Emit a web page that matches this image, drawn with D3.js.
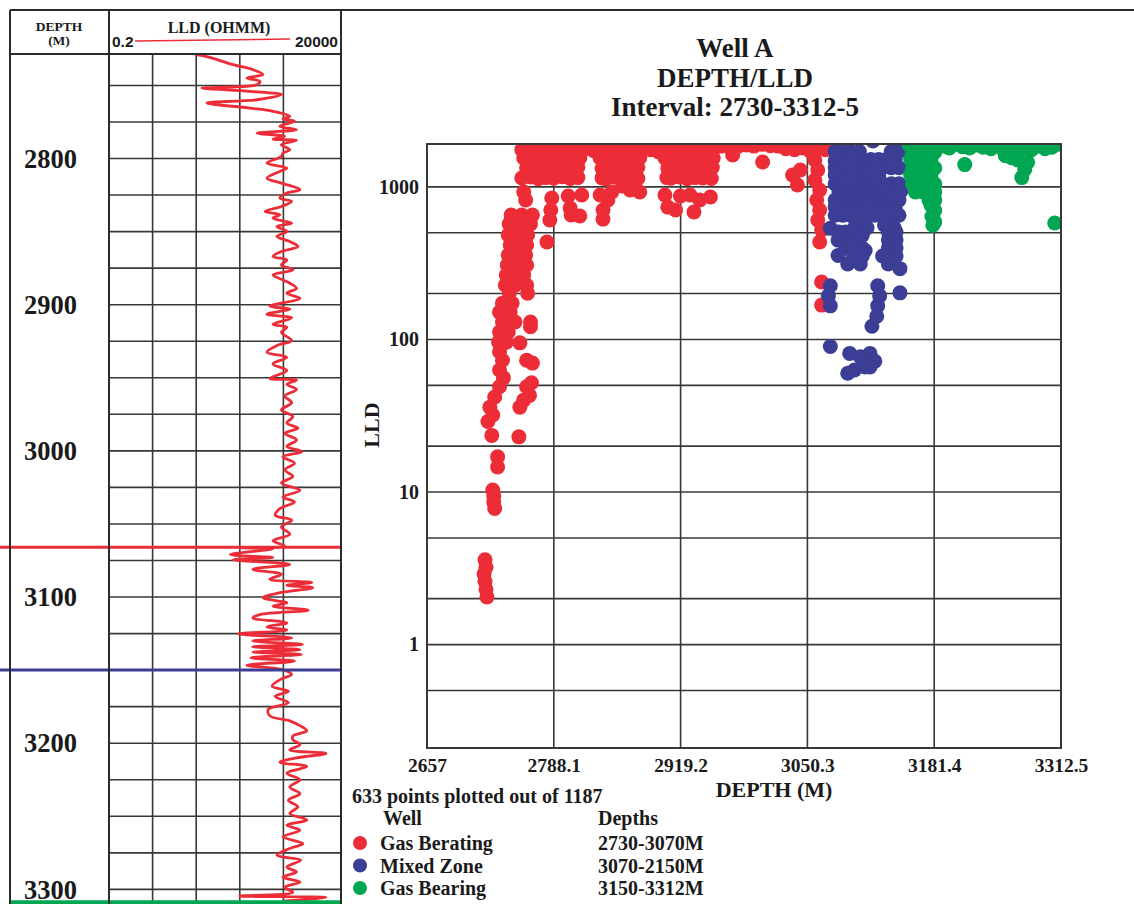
<!DOCTYPE html>
<html>
<head>
<meta charset="utf-8">
<script src="https://cdn.jsdelivr.net/npm/d3@7"></script>
<style>
    body { margin: 0; background: #fff; }
    svg { display: block; font-family: "Liberation Serif", "Times New Roman", serif; font-weight: bold; }
</style>
</head>
<body>
<script>
const width = 1134;
const height = 904;

// Zones (legend + boundary lines on the log track)
const zoneNames = ["Gas Berating", "Mixed Zone", "Gas Bearing"];
const zoneDepthText = ["2730-3070M", "3070-2150M", "3150-3312M"];
const zoneColors = ["#ec2d38", "#3b3e94", "#00a651"];
const zoneLines = [3066, 3150, 3309];

// Crossplot axes
const depthTicks = [2657, 2788.1, 2919.2, 3050.3, 3181.4, 3312.5];
const lldTicks = [1, 10, 100, 1000];
const lldGrid = [0.5, 1, 2, 5, 10, 20, 50, 100, 200, 500, 1000];

// Log track axes
const trackGrid = [2, 20, 200, 2000];
const trackDepthLabels = [2800, 2900, 3000, 3100, 3200, 3300];

// LLD curve on the depth track: [depth m, LLD ohmm]
const logCurve = [
    [2728.9, 19], [2729.6, 28], [2732.3, 60], [2735.8, 140], [2739.2, 400], [2742.6, 680],
    [2744.9, 290], [2747.2, 580], [2749.5, 495], [2751.8, 27], [2754, 340], [2756.3, 1800],
    [2759.8, 495], [2762, 35], [2765.5, 340], [2767.7, 1150], [2771.1, 2800], [2772.9, 1950],
    [2774.5, 3600], [2778, 1660], [2780.3, 4000], [2782.6, 495], [2784.8, 2150], [2786.7, 1150],
    [2787.6, 4000], [2790.6, 1800], [2794, 2800], [2796.3, 1950], [2798.6, 1800], [2803.1, 840],
    [2806.5, 2400], [2808.8, 1660], [2813.4, 840], [2816.8, 1800], [2821.3, 4800], [2823.6, 2400],
    [2827.1, 1660], [2829.3, 3100], [2832.8, 1800], [2836.2, 760], [2838.5, 1660], [2840.8, 1150],
    [2844.2, 3100], [2846.5, 1420], [2849.9, 2400], [2853.3, 1420], [2856.8, 2800], [2860.2, 4300],
    [2863.6, 1800], [2867.1, 1150], [2869.4, 2400], [2872.8, 1800], [2876.2, 3300], [2879.6, 1150],
    [2883.1, 1950], [2885.3, 2800], [2888.8, 4000], [2892.2, 2400], [2895.6, 4800],
    [2901, 980], [2903, 2800], [2906.5, 840], [2909, 3100], [2913.5, 1150], [2915.5, 2400],
    [2919, 1800], [2924.5, 3100], [2928, 1420], [2932.5, 840], [2936, 2400], [2940.5, 1150],
    [2945, 2400], [2950.5, 980], [2951.5, 4000], [2954.5, 2400], [2958, 4000], [2962.5, 2150],
    [2967, 3100], [2972, 1800], [2976.5, 3300], [2981, 2400], [2984.5, 4300], [2988, 2150],
    [2992.5, 4000], [2997, 2400], [3000.5, 5300], [3004, 1950], [3008.5, 3600], [3013, 2150],
    [3017.5, 3300], [3022, 1800], [3027, 4800], [3031.5, 1950], [3035, 3600], [3039.5, 1660],
    [3044, 1300], [3047.5, 3100], [3052, 1800], [3057, 2800], [3061.5, 1150], [3065, 2150],
    [3066.3, 200], [3067, 1150], [3070.9, 120], [3073, 1150], [3074.5, 140], [3077.7, 2800],
    [3081, 400], [3084.4, 1800], [3087.8, 980], [3090, 9000], [3092, 2400], [3093.6, 9400],
    [3097, 1700], [3100.5, 680], [3104, 2400], [3106.3, 1150], [3109, 7400], [3112, 580],
    [3114.3, 400], [3117.7, 2400], [3120.4, 840], [3122.7, 2400], [3125.2, 180], [3128, 3100],
    [3130, 400], [3132.5, 5500], [3134, 390], [3136, 4800], [3137.7, 400], [3139.3, 5200],
    [3141.6, 360], [3143.8, 3600], [3146.7, 290], [3149.5, 1800], [3153, 3100], [3156, 1800],
    [3161, 1100], [3164.4, 2600], [3168, 1300], [3172.3, 2600], [3176.8, 900], [3181.3, 980],
    [3184.7, 2800], [3188, 4800], [3191.5, 6900], [3195, 3300], [3197.5, 3300], [3201, 4800],
    [3204.5, 2800], [3207, 19000], [3210, 4000], [3213, 1660], [3216, 6900], [3220.5, 2400],
    [3225, 4800], [3230, 2800], [3234.5, 4800], [3239, 2600], [3243.5, 4300], [3248, 2800],
    [3252.6, 6900], [3256, 2400], [3259.6, 4800], [3264, 1950], [3268.7, 5600], [3272, 2800],
    [3276.7, 1420], [3280, 5000], [3284.7, 2400], [3288, 4000], [3291.6, 1950], [3295, 4800],
    [3298.5, 2150], [3302, 3300], [3304.5, 200], [3305.5, 19000], [3308, 1950]
];

// Crossplot points: [depth m, LLD ohmm]
const gasUpperPoints = [
    // low-resistivity shallow part
    [2717, 3.6], [2718, 3.2], [2716, 2.9], [2717, 2.6], [2718, 2.3], [2719, 2.05],
    [2725, 10.3], [2726, 9.4], [2726, 8.6], [2727, 7.8], [2730, 17], [2730, 14.6],
    [2724, 23.5], [2752, 23], [2720, 29], [2725, 32], [2722, 36], [2727, 42], [2732, 49],
    [2753, 36], [2757, 40], [2763, 43], [2760, 49], [2765, 52],
    [2736, 56], [2732, 63], [2735, 73], [2760, 73], [2766, 70], [2732, 83],
    [2731, 96], [2739, 96], [2753, 95], [2732, 112], [2741, 112], [2764, 121],
    [2735, 130], [2748, 130], [2764, 130], [2732, 151], [2743, 151], [2735, 173], [2745, 173],
    [2742, 201], [2761, 201], [2738, 227], [2748, 227], [2760, 227],
    [2739, 264], [2747, 264], [2757, 264], [2740, 307], [2751, 307], [2760, 307],
    [2741, 358], [2749, 358], [2759, 358], [2743, 416], [2753, 416], [2760, 416],
    [2741, 484], [2750, 484], [2761, 484], [2742, 572], [2752, 572], [2764, 572],
    [2744, 654], [2755, 654], [2766, 654], [2781, 435],
    // solid part under the upper band
    [2757, 1546], [2766, 1560], [2774, 1530], [2782, 1550], [2790, 1540], [2799, 1555], [2807, 1535],
    [2815, 1550], [2836, 1545], [2844, 1560], [2852, 1530], [2861, 1550], [2869, 1540], [2877, 1555],
    [2903, 1545], [2911, 1535], [2920, 1560], [2928, 1540], [2936, 1550], [2944, 1530], [2953, 1545],
    [2760, 1330], [2768, 1310], [2777, 1350], [2785, 1320], [2793, 1340], [2801, 1300], [2810, 1330],
    [2813, 1345], [2838, 1320], [2847, 1340], [2855, 1310], [2863, 1335], [2872, 1320], [2875, 1345],
    [2906, 1330], [2914, 1310], [2922, 1345], [2931, 1320], [2939, 1335], [2947, 1315], [2952, 1340],
    [2755, 1143], [2764, 1160], [2772, 1130], [2780, 1150], [2788, 1140], [2797, 1165], [2805, 1135],
    [2813, 1150], [2838, 1145], [2842, 1130], [2850, 1160], [2859, 1140], [2867, 1150], [2875, 1135],
    [2905, 1150], [2909, 1140], [2918, 1160], [2926, 1130], [2934, 1150], [2942, 1145], [2951, 1135],
    // hanging blobs
    [2757, 925], [2759, 820], [2786, 845], [2785, 705], [2784, 606],
    [2803, 871], [2817, 885], [2805, 727], [2806, 654], [2815, 644],
    [2836, 885], [2848, 925], [2844, 820], [2839, 705], [2839, 615],
    [2859, 1013], [2867, 954], [2877, 925],
    [2903, 885], [2919, 871], [2906, 737], [2914, 705],
    [2929, 885], [2939, 820], [2933, 685], [2950, 858],
    [2973, 1620], [3004, 1455],
    [3035, 1196], [3040, 1028], [3043, 1290],
    [3058, 1500], [3061, 1290], [3058, 1109], [3063, 954], [3060, 820], [3063, 705],
    [3061, 606], [3065, 522], [3063, 435], [3065, 238], [3065, 168],
    // upper band
    [2755, 1750], [2763, 1800], [2772, 1700], [2780, 1780], [2788, 1720], [2797, 1800],
    [2805, 1750], [2813, 1700], [2821, 1780], [2830, 1720], [2838, 1800], [2846, 1750],
    [2855, 1700], [2863, 1780], [2871, 1720], [2879, 1800], [2888, 1750], [2896, 1700],
    [2904, 1780], [2913, 1720], [2921, 1800], [2929, 1750], [2937, 1700], [2946, 1780],
    [2954, 1800], [2962, 1850], [2971, 1900], [2979, 1850], [2987, 1880], [2995, 1850],
    [3004, 1900], [3012, 1860], [3020, 1850], [3028, 1780], [3037, 1750], [3045, 1800],
    [3053, 1720], [3061, 1780], [3069, 1750]
];

const mixedPoints = [
    [3079, 1705], [3087, 1705], [3095, 1705], [3104, 1705], [3118, 2000], [3137, 1705], [3145, 1705],
    [3083, 1510], [3091, 1510], [3099, 1510], [3108, 1510], [3116, 1510], [3124, 1510], [3132, 1510], [3141, 1510], [3079, 1480],
    [3079, 1336], [3087, 1336], [3095, 1336], [3104, 1336], [3112, 1336], [3120, 1336], [3128, 1336], [3137, 1336], [3145, 1336],
    [3083, 1183], [3091, 1183], [3099, 1183], [3108, 1183], [3116, 1183], [3124, 1183], [3079, 1200],
    [3079, 1047], [3087, 1047], [3095, 1047], [3104, 1047], [3112, 1047], [3120, 1047], [3128, 1047], [3137, 1047], [3145, 1047],
    [3083, 927], [3091, 927], [3099, 927], [3108, 927], [3116, 927], [3124, 927], [3132, 927], [3141, 927], [3147, 940],
    [3079, 820], [3087, 820], [3095, 820], [3104, 820], [3112, 820], [3120, 820], [3128, 820], [3137, 820], [3145, 820],
    [3083, 726], [3091, 726], [3099, 726], [3108, 726], [3116, 726], [3124, 726], [3132, 726], [3141, 726], [3079, 740],
    [3079, 652], [3087, 652], [3095, 652], [3104, 652], [3112, 652], [3120, 652], [3128, 652], [3137, 652], [3145, 652],
    [3100, 560], [3112, 540], [3130, 560], [3140, 540],
    [3082, 506], [3090, 506], [3098, 506], [3107, 506], [3082, 448], [3090, 448], [3098, 448],
    [3090, 397], [3098, 397], [3107, 397], [3098, 352], [3107, 352], [3092, 312], [3105, 312],
    [3134, 506], [3142, 506], [3134, 448], [3142, 448], [3134, 397], [3142, 397],
    [3128, 352], [3142, 352], [3134, 312], [3146, 291],
    [3074, 535], [3084, 504], [3082, 355], [3110, 383], [3099, 446], [3107, 481],
    [3074, 225], [3072, 193], [3074, 166],
    [3123, 225], [3125, 193], [3123, 166], [3122, 142], [3117, 122], [3146, 202],
    [3074, 90], [3094, 81], [3105, 77], [3115, 81], [3120, 72], [3110, 66], [3099, 63], [3092, 60], [3115, 66]
];

const gasLowerPoints = [
    [3159, 1690], [3167, 1690], [3175, 1690], [3182, 1690],
    [3162, 1500], [3170, 1500], [3178, 1500], [3157, 1520],
    [3159, 1330], [3167, 1330], [3175, 1330], [3182, 1330],
    [3162, 1180], [3170, 1180], [3178, 1180], [3157, 1200],
    [3159, 1045], [3167, 1045], [3175, 1045], [3182, 1045],
    [3162, 925], [3170, 925], [3178, 925], [3182, 925],
    [3176, 820], [3182, 820], [3178, 760], [3182, 700], [3179, 640], [3182, 590], [3180, 560],
    [3213, 1400],
    [3155, 1900], [3165, 2000], [3172, 1850], [3180, 1900],
    [3190, 1850], [3197, 1800], [3204, 1900], [3211, 1830], [3218, 1800], [3225, 1880],
    [3232, 1820], [3240, 1780], [3247, 1850], [3254, 1700], [3261, 1800], [3268, 1720],
    [3275, 1800], [3282, 1750], [3289, 1850], [3296, 1780], [3303, 1820], [3309, 1900],
    [3255, 1600], [3262, 1550], [3268, 1500], [3275, 1300], [3272, 1150], [3278, 1450],
    [3306, 580]
];

const zonePoints = [gasUpperPoints, mixedPoints, gasLowerPoints];

const frameColor = "#2b2b2b";
const gridColor = "#383838";

const svg = d3.select("body").append("svg")
    .attr("width", width)
    .attr("height", height)
    .attr("viewBox", [0, 0, width, height]);

//---------------- Left: depth track ----------------
const track = {left: 109, right: 341, top: 54, bottom: 904};
const trackX = d3.scaleLog().domain([0.2, 20000]).range([track.left, 327]);
const trackY = d3.scaleLinear().domain([2728.5, 3310]).range([track.top, track.bottom]);

function drawTrack(svg) {
    const g = svg.append("g");

    // horizontal grid every 25 m
    g.append("g")
        .selectAll("line")
        .data(d3.range(2750, 3310, 25))
        .join("line")
        .attr("x1", track.left).attr("x2", track.right)
        .attr("y1", d => trackY(d)).attr("y2", d => trackY(d))
        .attr("stroke", gridColor).attr("stroke-width", 1.6);

    // vertical decade lines
    g.append("g")
        .selectAll("line")
        .data(trackGrid)
        .join("line")
        .attr("x1", d => trackX(d)).attr("x2", d => trackX(d))
        .attr("y1", track.top).attr("y2", track.bottom)
        .attr("stroke", gridColor).attr("stroke-width", 1.6);

    // depth labels
    g.append("g")
        .selectAll("text")
        .data(trackDepthLabels)
        .join("text")
        .attr("x", 24)
        .attr("y", d => trackY(d))
        .attr("dy", "0.35em")
        .attr("font-size", 26.5)
        .attr("fill", "#1a1a1a")
        .text(d => d);

    // LLD curve
    const line = d3.line()
        .x(d => trackX(d[1]))
        .y(d => trackY(d[0]))
        .curve(d3.curveCatmullRom.alpha(0.5));

    g.append("path")
        .datum(logCurve)
        .attr("fill", "none")
        .attr("stroke", "#ec2d38")
        .attr("stroke-width", 2.8)
        .attr("stroke-linejoin", "round")
        .attr("d", line);

    // zone boundaries
    g.append("g")
        .selectAll("line")
        .data(zoneLines)
        .join("line")
        .attr("x1", (d, i) => i === 2 ? 10 : 0).attr("x2", track.right)
        .attr("y1", d => trackY(d)).attr("y2", d => trackY(d))
        .attr("stroke", (d, i) => zoneColors[i])
        .attr("stroke-width", (d, i) => i === 2 ? 4.5 : 3);

    // frame
    const frame = g.append("g").attr("stroke", frameColor).attr("stroke-width", 2);
    frame.append("line").attr("x1", 10).attr("x2", width).attr("y1", 10).attr("y2", 10);
    frame.append("line").attr("x1", 10).attr("x2", 10).attr("y1", 10).attr("y2", height);
    frame.append("line").attr("x1", track.right).attr("x2", track.right).attr("y1", 10).attr("y2", height);
    frame.append("line").attr("x1", track.left).attr("x2", track.left).attr("y1", 10).attr("y2", height);
    frame.append("line").attr("x1", 10).attr("x2", track.right).attr("y1", track.top).attr("y2", track.top);

    // header
    const head = g.append("g").attr("fill", "#1a1a1a");
    head.append("text").attr("x", 59).attr("y", 31).attr("text-anchor", "middle")
        .attr("font-size", 13.5).text("DEPTH");
    head.append("text").attr("x", 59).attr("y", 45).attr("text-anchor", "middle")
        .attr("font-size", 13.5).text("(M)");
    head.append("text").attr("x", 219).attr("y", 33).attr("text-anchor", "middle")
        .attr("font-size", 16).text("LLD (OHMM)");
    head.append("text").attr("x", 112).attr("y", 47)
        .attr("font-family", "Liberation Sans, Arial, sans-serif")
        .attr("font-size", 15.5).text("0.2");
    head.append("text").attr("x", 338).attr("y", 47).attr("text-anchor", "end")
        .attr("font-family", "Liberation Sans, Arial, sans-serif")
        .attr("font-size", 15.5).text("20000");
    head.append("line")
        .attr("x1", 135).attr("x2", 290).attr("y1", 41).attr("y2", 39)
        .attr("stroke", "#ec2d38").attr("stroke-width", 1.6);
}

//---------------- Right: crossplot ----------------
const plot = {left: 427, right: 1061, top: 144, bottom: 748};
const x = d3.scaleLinear().domain([2657, 3312.5]).range([plot.left, plot.right]);
const y = d3.scaleLog().domain([0.21, 1910]).range([plot.bottom, plot.top]);

function drawCrossplot(svg) {
    const g = svg.append("g");

    // title
    const title = g.append("g").attr("text-anchor", "middle").attr("font-size", 27).attr("fill", "#1a1a1a");
    title.append("text").attr("x", 735).attr("y", 57).text("Well A");
    title.append("text").attr("x", 735).attr("y", 87).text("DEPTH/LLD");
    title.append("text").attr("x", 735).attr("y", 116).text("Interval: 2730-3312-5");

    // grid
    g.append("g")
        .selectAll("line")
        .data(lldGrid)
        .join("line")
        .attr("x1", plot.left).attr("x2", plot.right)
        .attr("y1", d => y(d)).attr("y2", d => y(d))
        .attr("stroke", gridColor).attr("stroke-width", 1.6);
    g.append("g")
        .selectAll("line")
        .data(depthTicks.slice(1, -1))
        .join("line")
        .attr("x1", d => x(d)).attr("x2", d => x(d))
        .attr("y1", plot.top).attr("y2", plot.bottom)
        .attr("stroke", gridColor).attr("stroke-width", 1.6);

    // points
    svg.append("defs").append("clipPath").attr("id", "plot-clip")
        .append("rect")
        .attr("x", plot.left).attr("y", plot.top)
        .attr("width", plot.right - plot.left).attr("height", plot.bottom - plot.top);

    const dots = g.append("g").attr("clip-path", "url(#plot-clip)");
    zonePoints.forEach((pts, i) => {
        dots.append("g")
            .attr("fill", zoneColors[i])
            .selectAll("circle")
            .data(pts)
            .join("circle")
            .attr("cx", d => x(d[0]))
            .attr("cy", d => y(d[1]))
            .attr("r", 7.5);
    });

    // border
    g.append("rect")
        .attr("x", plot.left).attr("y", plot.top)
        .attr("width", plot.right - plot.left).attr("height", plot.bottom - plot.top)
        .attr("fill", "none").attr("stroke", gridColor).attr("stroke-width", 2);

    // axes
    const xAxis = g.append("g")
        .attr("transform", `translate(0,${plot.bottom})`)
        .call(d3.axisBottom(x).tickValues(depthTicks).tickFormat(d => d).tickSize(0).tickPadding(10));
    xAxis.select(".domain").remove();
    xAxis.selectAll("text")
        .attr("font-family", "Liberation Serif, serif")
        .attr("font-weight", "bold")
        .attr("font-size", 19.5)
        .attr("fill", "#1a1a1a");

    const yAxis = g.append("g")
        .attr("transform", `translate(${plot.left},0)`)
        .call(d3.axisLeft(y).tickValues(lldTicks).tickFormat(d3.format("d")).tickSize(0).tickPadding(8));
    yAxis.select(".domain").remove();
    yAxis.selectAll("text")
        .attr("font-family", "Liberation Serif, serif")
        .attr("font-weight", "bold")
        .attr("font-size", 20)
        .attr("fill", "#1a1a1a");

    g.append("text")
        .attr("x", 774).attr("y", 797)
        .attr("text-anchor", "middle")
        .attr("font-size", 22)
        .attr("fill", "#1a1a1a")
        .text("DEPTH (M)");

    g.append("text")
        .attr("transform", "translate(379,425) rotate(-90)")
        .attr("text-anchor", "middle")
        .attr("font-size", 22)
        .attr("fill", "#1a1a1a")
        .text("LLD");
}

function drawLegend(svg) {
    const g = svg.append("g").attr("font-size", 20).attr("fill", "#1a1a1a");
    g.append("text").attr("x", 352).attr("y", 803).text("633 points plotted out of 1187");
    g.append("text").attr("x", 383).attr("y", 825).text("Well");
    g.append("text").attr("x", 598).attr("y", 825).text("Depths");

    const rows = g.selectAll("g.row")
        .data(zoneNames)
        .join("g")
        .attr("class", "row")
        .attr("transform", (d, i) => `translate(0,${850 + i * 22.5})`);
    rows.append("circle")
        .attr("cx", 360).attr("cy", -7).attr("r", 7)
        .attr("fill", (d, i) => zoneColors[i]);
    rows.append("text").attr("x", 380).text(d => d);
    rows.append("text").attr("x", 598).text((d, i) => zoneDepthText[i]);
}

drawCrossplot(svg);
drawTrack(svg);
drawLegend(svg);
</script>
</body>
</html>
